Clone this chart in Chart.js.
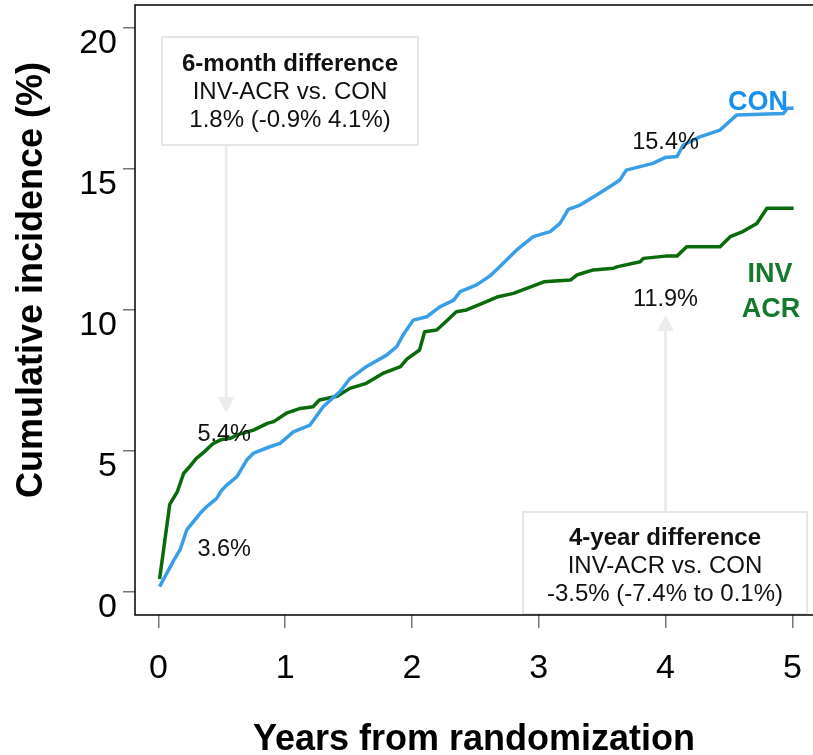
<!DOCTYPE html>
<html>
<head>
<meta charset="utf-8">
<script src="https://cdn.jsdelivr.net/npm/chart.js@4.4.1/dist/chart.umd.min.js"></script>
<style>
  html, body { margin: 0; padding: 0; background: #fff; }
  #wrap { width: 813px; height: 755px; }
</style>
</head>
<body>
<div id="wrap"><canvas id="c" width="813" height="755"></canvas></div>
<script>
// Cumulative incidence curves (years from randomization, %)
const yearsInv = [0.01, 0.09, 0.15, 0.20, 0.25, 0.30, 0.36, 0.43, 0.50, 0.57, 0.62, 0.75, 0.86, 0.91, 1.01, 1.12, 1.22, 1.27, 1.41, 1.51, 1.64, 1.77, 1.91, 1.96, 2.06, 2.10, 2.195, 2.25, 2.35, 2.43, 2.56, 2.68, 2.80, 2.90, 3.04, 3.25, 3.30, 3.43, 3.59, 3.615, 3.80, 3.825, 4.00, 4.09, 4.167, 4.43, 4.51, 4.61, 4.72, 4.80, 5.01];
const invAcr   = [0.45, 3.10, 3.55, 4.20, 4.45, 4.73, 4.95, 5.25, 5.40, 5.44, 5.56, 5.73, 5.97, 6.03, 6.33, 6.50, 6.56, 6.80, 6.93, 7.21, 7.39, 7.74, 7.98, 8.25, 8.57, 9.22, 9.28, 9.50, 9.93, 9.99, 10.23, 10.46, 10.58, 10.75, 10.99, 11.05, 11.23, 11.41, 11.47, 11.52, 11.70, 11.82, 11.90, 11.90, 12.23, 12.23, 12.59, 12.77, 13.06, 13.60, 13.60];

const yearsCon = [0.01, 0.066, 0.12, 0.171, 0.224, 0.33, 0.38, 0.46, 0.50, 0.54, 0.62, 0.697, 0.75, 0.776, 0.88, 0.96, 1.065, 1.196, 1.30, 1.433, 1.51, 1.64, 1.80, 1.88, 1.93, 2.01, 2.117, 2.22, 2.33, 2.38, 2.51, 2.616, 2.68, 2.826, 2.957, 3.09, 3.168, 3.233, 3.326, 3.457, 3.59, 3.64, 3.69, 3.90, 4.00, 4.09, 4.14, 4.27, 4.43, 4.56, 4.93, 4.96, 5.01];
const con      = [0.18, 0.65, 1.10, 1.48, 2.19, 2.78, 3.01, 3.31, 3.60, 3.78, 4.08, 4.67, 4.91, 4.96, 5.14, 5.26, 5.67, 5.91, 6.56, 7.10, 7.55, 7.98, 8.39, 8.69, 9.10, 9.63, 9.75, 10.10, 10.34, 10.64, 10.88, 11.20, 11.47, 12.12, 12.59, 12.77, 13.06, 13.56, 13.71, 14.07, 14.45, 14.60, 14.95, 15.19, 15.40, 15.43, 15.84, 16.13, 16.37, 16.90, 16.96, 17.14, 17.14];

const xTicks = [0, 1, 2, 3, 4, 5];
const yTicks = [0, 5, 10, 15, 20];

// Landmark estimates written on the plot
const sixMonth = { year: 0.535, inv: 5.4, con: 3.6 };
const fourYear = { year: 4.0, inv: 11.9, con: 15.4 };
const sixMonthBox = ['6-month difference', 'INV-ACR vs. CON', '1.8% (-0.9% 4.1%)'];
const fourYearBox = ['4-year difference', 'INV-ACR vs. CON', '-3.5% (-7.4% to 0.1%)'];

const FONT = "'Liberation Sans', Arial, Helvetica, sans-serif";
const CON_LINE = '#3a9ee6';
const INV_LINE = '#0b6a0b';

const toXY = (xs, ys) => xs.map((x, i) => ({ x: x, y: ys[i] }));

// keep the plot area fixed: no extra room reserved for edge labels
function noEdgePadding(s) {
  s.paddingLeft = 0; s.paddingRight = 0; s.paddingTop = 0; s.paddingBottom = 0;
}

const overlay = {
  id: 'overlay',
  afterDraw(chart) {
    const ctx = chart.ctx;
    const xs = chart.scales.x, ys = chart.scales.y;
    const a = chart.chartArea;
    const px = v => xs.getPixelForValue(v);
    ctx.save();

    function arrow(x, y0, y1) {
      const dir = y1 > y0 ? 1 : -1;
      ctx.strokeStyle = '#ececec';
      ctx.fillStyle = '#ececec';
      ctx.lineWidth = 3;
      ctx.beginPath();
      ctx.moveTo(x, y0);
      ctx.lineTo(x, y1 - dir * 14);
      ctx.stroke();
      ctx.beginPath();
      ctx.moveTo(x - 8.5, y1 - dir * 16);
      ctx.lineTo(x + 8.5, y1 - dir * 16);
      ctx.lineTo(x, y1);
      ctx.closePath();
      ctx.fill();
    }
    function box(l, t, r, b, lines, cy0) {
      ctx.fillStyle = '#ffffff';
      ctx.fillRect(l, t, r - l, b - t);
      ctx.strokeStyle = '#e6e6e6';
      ctx.lineWidth = 2;
      ctx.strokeRect(l, t, r - l, b - t);
      ctx.fillStyle = '#111';
      ctx.textAlign = 'center';
      ctx.textBaseline = 'middle';
      const cx = (l + r) / 2;
      lines.forEach((s, i) => {
        ctx.font = (i === 0 ? 'bold ' : '') + '24px ' + FONT;
        ctx.fillText(s, cx, cy0 + i * 28);
      });
    }

    const ax1 = px(sixMonth.year);
    arrow(ax1, 146, 413);
    box(162, 37, 418, 145, sixMonthBox, 64);

    const ax2 = px(fourYear.year);
    arrow(ax2, 511, 315);
    box(523, 512, 807, 614, fourYearBox, 538);

    // value labels
    ctx.fillStyle = '#111';
    ctx.font = '23.5px ' + FONT;
    ctx.textAlign = 'center';
    ctx.textBaseline = 'middle';
    ctx.fillText(sixMonth.inv.toFixed(1) + '%', px(sixMonth.year) - 2, 435);
    ctx.fillText(sixMonth.con.toFixed(1) + '%', px(sixMonth.year) - 2, 550);
    ctx.fillText(fourYear.con.toFixed(1) + '%', px(fourYear.year), 143);
    ctx.fillText(fourYear.inv.toFixed(1) + '%', px(fourYear.year), 300);

    // group names
    ctx.font = 'bold 27px ' + FONT;
    ctx.fillStyle = '#1a90ee';
    ctx.fillText('CON', 758, 103);
    ctx.fillStyle = '#16782c';
    ctx.fillText('INV', 770, 275);
    ctx.fillText('ACR', 771, 310);

    // frame: left, top, bottom
    ctx.strokeStyle = '#000';
    ctx.lineWidth = 1.5;
    ctx.beginPath();
    ctx.moveTo(chart.width, a.top);
    ctx.lineTo(a.left, a.top);
    ctx.lineTo(a.left, a.bottom);
    ctx.lineTo(chart.width, a.bottom);
    ctx.stroke();

    // axis titles
    ctx.fillStyle = '#000';
    ctx.font = 'bold 36px ' + FONT;
    ctx.textAlign = 'center';
    ctx.textBaseline = 'alphabetic';
    ctx.fillText('Years from randomization', (a.left + a.right) / 2, 749.5);
    ctx.translate(41.5, 280);
    ctx.rotate(-Math.PI / 2);
    ctx.fillText('Cumulative incidence (%)', 0, 0);
    ctx.restore();
  }
};

new Chart(document.getElementById('c'), {
  type: 'line',
  data: {
    datasets: [
      { label: 'CON', data: toXY(yearsCon, con), borderColor: CON_LINE, borderWidth: 3.5 },
      { label: 'INV ACR', data: toXY(yearsInv, invAcr), borderColor: INV_LINE, borderWidth: 3.5 }
    ]
  },
  options: {
    responsive: false,
    animation: false,
    devicePixelRatio: 1,
    layout: { padding: { top: 5, right: 0, left: 0, bottom: 0 } },
    elements: {
      point: { radius: 0 },
      line: { tension: 0, borderJoinStyle: 'round', borderCapStyle: 'butt' }
    },
    plugins: { legend: { display: false }, tooltip: { enabled: false } },
    scales: {
      x: {
        type: 'linear',
        min: -0.184,
        max: 5.163,
        afterBuildTicks: s => { s.ticks = xTicks.map(v => ({ value: v })); },
        afterFit: s => { s.height = 140; noEdgePadding(s); },
        border: { display: false },
        grid: { drawOnChartArea: false, drawTicks: true, tickLength: 13, color: '#777', lineWidth: 1.5 },
        ticks: { font: { family: FONT, size: 34 }, color: '#000', padding: 20, maxRotation: 0, autoSkip: false }
      },
      y: {
        min: -0.826,
        max: 20.805,
        afterBuildTicks: s => { s.ticks = yTicks.map(v => ({ value: v })); },
        afterFit: s => { s.width = 135; noEdgePadding(s); },
        border: { display: false },
        grid: { drawOnChartArea: false, drawTicks: true, tickLength: 12, color: '#777', lineWidth: 1.5 },
        ticks: { font: { family: FONT, size: 34 }, color: '#000', padding: 6, labelOffset: 16, autoSkip: false }
      }
    }
  },
  plugins: [overlay]
});
</script>
</body>
</html>
